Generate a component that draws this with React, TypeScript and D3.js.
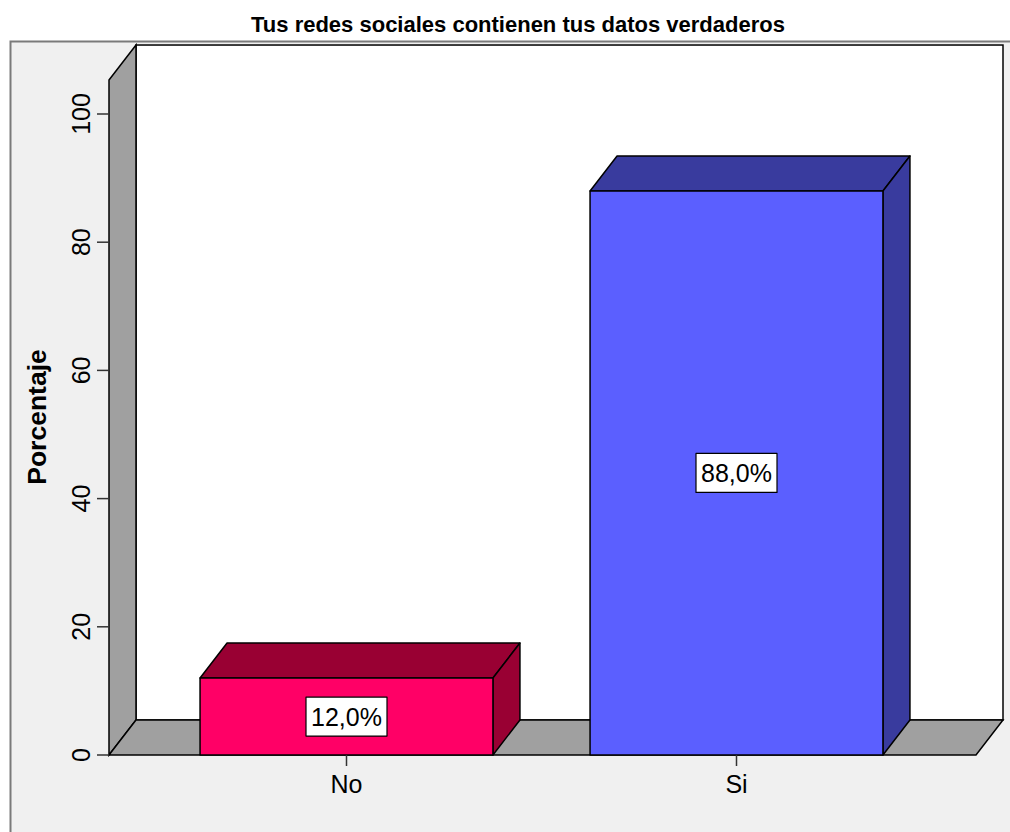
import React from 'react'
import * as d3 from 'd3'

const categories = ['No', 'Si']
const percentages = [12.0, 88.0]
const yTicks = [0, 20, 40, 60, 80, 100]
const frontColors = ['#FF0066', '#5B5FFF']
const shadeColors = ['#990033', '#393B9E']

const title = 'Tus redes sociales contienen tus datos verdaderos'
const yLabel = 'Porcentaje'

const font = '"Liberation Sans", Arial, sans-serif'

const App = () => {
  const width = 1010, height = 832
  // 3d depth offset of the floor / walls / bars
  const depth = { dx: 27, dy: -35 }
  const floorLeft = 109, floorRight = 976
  const yTop = 105.3

  const y = d3.scaleLinear().domain([0, 100]).range([755, 114])
  const x = d3.scaleBand()
    .domain(categories)
    .range([151.5, 931.5])
    .paddingInner(0.249)
    .paddingOuter(0.1245)

  const y0 = y(0)
  const pts = (a: number[][]) => a.map(p => p.join(',')).join(' ')
  const fmt = (v: number) => v.toFixed(1).replace('.', ',') + '%'

  return (
    <svg width={width} height={height} style={{ position: 'absolute', left: 0, top: 0, fontFamily: font }}>
      <rect x={0} y={0} width={width} height={height} fill='#ffffff' />
      <text x={518} y={32} textAnchor='middle' fontSize={22} fontWeight='bold' fill='#000'>{title}</text>
      <rect x={10.5} y={41.5} width={1010} height={800} fill='#F0F0F0' stroke='#7a7a7a' strokeWidth={2} />

      {/* back wall */}
      <rect x={floorLeft + depth.dx} y={y(yTop) + depth.dy} width={floorRight - floorLeft}
        height={y0 - y(yTop)} fill='#ffffff' stroke='#000' strokeWidth={1.5} />
      {/* left wall */}
      <polygon fill='#A0A0A0' stroke='#000' strokeWidth={1.5} points={pts([
        [floorLeft, y(yTop)], [floorLeft + depth.dx, y(yTop) + depth.dy],
        [floorLeft + depth.dx, y0 + depth.dy], [floorLeft, y0]])} />
      {/* floor */}
      <polygon fill='#A0A0A0' stroke='#000' strokeWidth={1.5} points={pts([
        [floorLeft, y0], [floorLeft + depth.dx, y0 + depth.dy],
        [floorRight + depth.dx, y0 + depth.dy], [floorRight, y0]])} />

      {/* y axis */}
      {yTicks.map(t => (
        <g key={t}>
          <line x1={97} x2={floorLeft} y1={y(t)} y2={y(t)} stroke='#333' strokeWidth={1.5} />
          <text transform={`translate(90,${y(t)}) rotate(-90)`} textAnchor='middle' fontSize={25} fill='#000'>{t}</text>
        </g>
      ))}
      <text transform={`translate(46,417) rotate(-90)`} textAnchor='middle' fontSize={26.5} fontWeight='bold' fill='#000'>{yLabel}</text>

      {/* bars */}
      {categories.map((c, i) => {
        const x0 = x(c)!, x1 = x0 + x.bandwidth()
        const yv = y(percentages[i])
        const { dx, dy } = depth
        const cx = x0 + x.bandwidth() / 2
        const cy = (yv + y0) / 2
        return (
          <g key={c} stroke='#000' strokeWidth={1.5} strokeLinejoin='round'>
            <polygon fill={shadeColors[i]} points={pts([[x0, yv], [x0 + dx, yv + dy], [x1 + dx, yv + dy], [x1, yv]])} />
            <polygon fill={shadeColors[i]} points={pts([[x1, yv], [x1 + dx, yv + dy], [x1 + dx, y0 + dy], [x1, y0]])} />
            <rect x={x0} y={yv} width={x1 - x0} height={y0 - yv} fill={frontColors[i]} />
            <rect x={cx - 40.5} y={cy - 19.5} width={81} height={39} fill='#fff' strokeWidth={1.2} />
            <text x={cx} y={cy + 9} textAnchor='middle' fontSize={25} fill='#000' stroke='none'>{fmt(percentages[i])}</text>
          </g>
        )
      })}

      {/* x axis */}
      {categories.map(c => {
        const cx = x(c)! + x.bandwidth() / 2
        return (
          <g key={c}>
            <line x1={cx} x2={cx} y1={y0} y2={766} stroke='#333' strokeWidth={1.5} />
            <text x={cx} y={793} textAnchor='middle' fontSize={25} fill='#000'>{c}</text>
          </g>
        )
      })}
    </svg>
  )
}

export default App
